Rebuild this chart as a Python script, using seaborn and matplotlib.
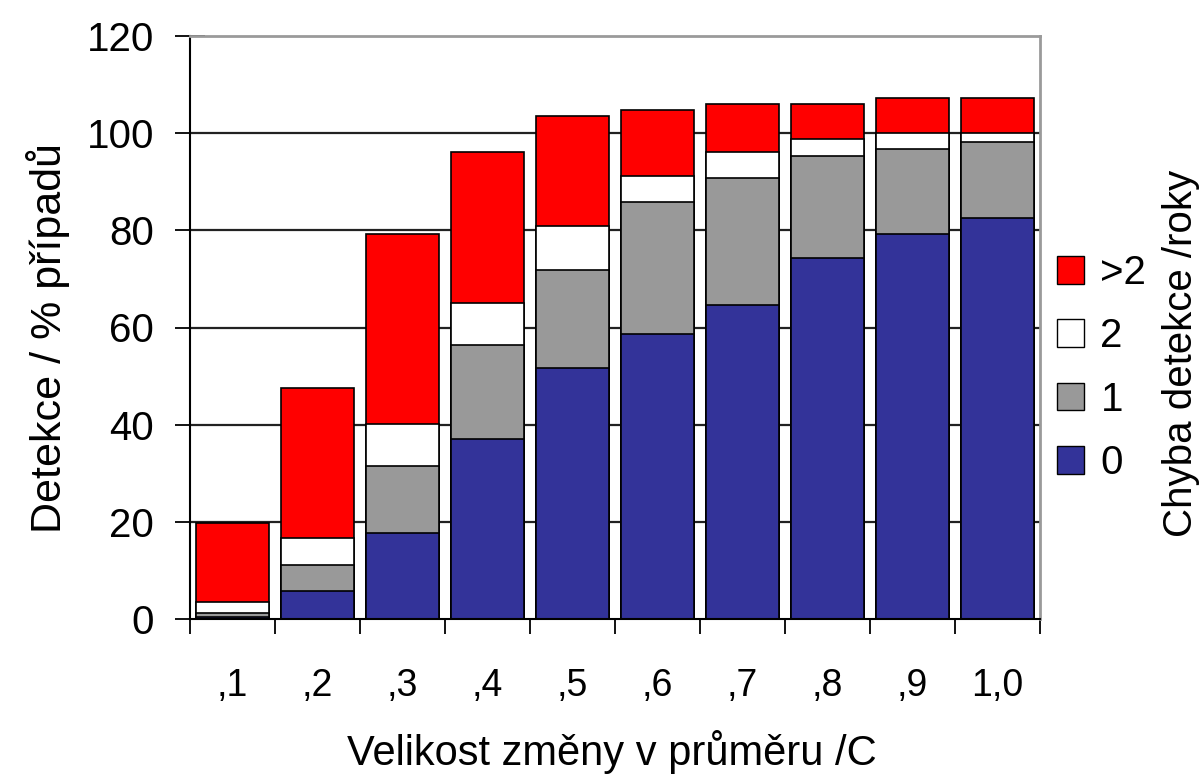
import numpy as np
import pandas as pd
import matplotlib
matplotlib.use("Agg")
import matplotlib.pyplot as plt
import seaborn as sns
from matplotlib.patches import Patch
from matplotlib.ticker import FixedLocator

# Size of the change in the mean (x categories)
categories = [",1", ",2", ",3", ",4", ",5", ",6", ",7", ",8", ",9", "1,0"]

# Share of cases (%) detected with a given detection delay in years
err0 = [0.4, 5.8, 17.8, 37.1, 51.6, 58.7, 64.7, 74.3, 79.2, 82.6]
err1 = [0.8, 5.4, 13.7, 19.2, 20.2, 27.2, 26.1, 21.1, 17.6, 15.5]
err2 = [2.2, 5.4, 8.7, 8.7, 9.0, 5.3, 5.4, 3.3, 3.2, 1.9]
err_gt2 = [16.3, 31.0, 39.1, 31.2, 22.7, 13.6, 9.8, 7.3, 7.3, 7.3]

series_labels = ["0", "1", "2", ">2"]
series_colors = ["#333399", "#999999", "#FFFFFF", "#FF0000"]
y_ticks = [0, 20, 40, 60, 80, 100, 120]

sns.set_theme(style="white")
plt.rcParams["font.family"] = ["Liberation Sans", "DejaVu Sans"]
plt.rcParams.update({"text.color": "black", "axes.labelcolor": "black",
                     "xtick.color": "black", "ytick.color": "black"})

W, H = 1204, 774
fig = plt.figure(figsize=(W / 100, H / 100), dpi=100)
ax = fig.add_axes([190 / W, 1 - 619 / H, 850 / W, 583 / H])

# stacked bars: draw cumulative totals from the top layer down
layers = np.array([err0, err1, err2, err_gt2])
cum = np.cumsum(layers, axis=0)
for i in range(len(layers) - 1, -1, -1):
    df = pd.DataFrame({"cat": categories, "val": cum[i]})
    sns.barplot(data=df, x="cat", y="val", order=categories,
                color=series_colors[i], saturation=1, width=0.85,
                edgecolor="black", linewidth=1.2, ax=ax, zorder=2)

# horizontal grid lines behind the bars
ax.hlines(y_ticks[1:-1], -0.5, len(categories) - 0.5, colors="#222222",
          linewidth=1.6, zorder=1)

ax.set_xlim(-0.5, len(categories) - 0.5)
ax.set_ylim(y_ticks[0], y_ticks[-1])
ax.set_yticks(y_ticks)
ax.set_xlabel("")
ax.set_ylabel("")

ax.tick_params(axis="y", direction="inout", length=22, width=1.3,
               color="black", labelsize=29, pad=15, left=True)
ax.xaxis.set_minor_locator(FixedLocator(np.arange(len(categories) + 1) - 0.5))
ax.tick_params(axis="x", which="major", length=0, pad=35, labelsize=27)
ax.tick_params(axis="x", which="minor", direction="out", length=11,
               width=1.3, color="black", bottom=True)

for side in ("left", "bottom"):
    ax.spines[side].set_color("black")
    ax.spines[side].set_linewidth(1.5)
for side in ("top", "right"):
    ax.spines[side].set_color("#9a9a9a")
    ax.spines[side].set_linewidth(2)

# legend, top layer first
handles = [Patch(facecolor=series_colors[i], edgecolor="black", linewidth=1.0)
           for i in range(len(series_labels) - 1, -1, -1)]
labels = [series_labels[i] for i in range(len(series_labels) - 1, -1, -1)]
fig.legend(handles, labels, loc="center left",
           bbox_to_anchor=(1057 / W, 1 - 368 / H), frameon=False,
           fontsize=29, handlelength=0.68, handleheight=0.68,
           handletextpad=0.4, labelspacing=0.63, borderpad=0,
           borderaxespad=0)

fig.text(48 / W, 1 - 338 / H, "Detekce / % případů", rotation=90,
         ha="center", va="center", fontsize=31)
fig.text(1181 / W, 1 - 353 / H, "Chyba detekce /roky", rotation=90,
         ha="center", va="center", fontsize=29)
fig.text(612 / W, 1 - 752 / H, "Velikost změny v průměru /C",
         ha="center", va="center", fontsize=30)

fig.savefig("out.png", dpi=100)
